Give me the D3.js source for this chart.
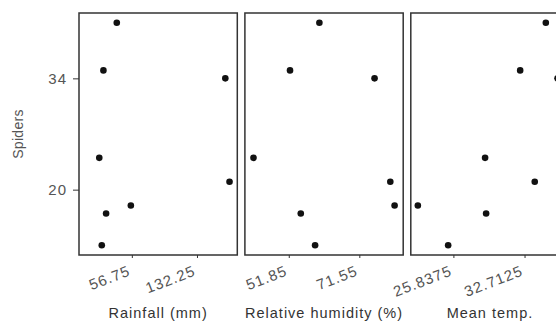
<!DOCTYPE html>
<html>
<head>
<meta charset="utf-8">
<script src="https://cdn.jsdelivr.net/npm/d3@7"></script>
<style>
  body { margin: 0; background: #fff; }
  svg { display: block; font-family: "Liberation Sans", Arial, sans-serif; }
</style>
</head>
<body>
<svg id="chart" width="556" height="322"></svg>
<script>
// one row per site, same order in every array
var spiders = [41, 35, 34, 24, 21, 18, 17, 13]
var rainfall = [39.3, 23.8, 165.1, 19, 170, 55.6, 26.9, 21.9]
var humidity = [60.4, 52.2, 75.8, 42, 80.2, 81.4, 55.2, 59.2]
var meanTemp = [34.77, 32.29, 35.9, 28.9, 33.7, 22.4, 29.0, 25.33]

var yTicks = [20, 34]
var rainTicks = [56.75, 132.25]
var humidityTicks = [51.85, 71.55]
var tempTicks = [25.8375, 32.7125]

var panels = [
  { title: 'Rainfall (mm)', values: rainfall, ticks: rainTicks, domain: [-4.5, 179] },
  { title: 'Relative humidity (%)', values: humidity, ticks: humidityTicks, domain: [39.6, 83.8] },
  { title: 'Mean temp.', values: meanTemp, ticks: tempTicks, domain: [21.72, 37.02] }
]

;(function () {
  'use strict'

  var svg = d3.select('#chart')

  var plotTop = 13, plotBottom = 255,
      plotLeft = 79, panelW = 158.3, gap = 7.6
  var font = '"Liberation Sans", Arial, sans-serif'

  var y = d3.scaleLinear().domain([11.78, 42.22]).range([plotBottom, plotTop])

  // y axis on the first panel
  var yAxis = svg.append('g')
    .attr('transform', 'translate(' + plotLeft + ',0)')
    .call(d3.axisLeft(y).tickValues(yTicks).tickSize(6).tickPadding(6).tickFormat(d3.format('d')))
  yAxis.select('.domain').remove()
  yAxis.selectAll('line').attr('stroke', '#333')
  yAxis.selectAll('text')
    .attr('fill', '#555')
    .style('font-size', '15px')
    .style('letter-spacing', '1px')
    .style('font-family', font)

  svg.append('text')
    .attr('transform', 'translate(23,' + (plotTop + plotBottom) / 2 + ') rotate(-90)')
    .attr('text-anchor', 'middle')
    .attr('fill', '#555')
    .style('font-size', '14px')
    .style('letter-spacing', '0.3px')
    .text('Spiders')

  panels.forEach(function (p, i) {
    var x0 = plotLeft + i * (panelW + gap)
    var x = d3.scaleLinear().domain(p.domain).range([x0, x0 + panelW])
    var g = svg.append('g')

    var xAxis = g.append('g')
      .attr('transform', 'translate(0,' + plotBottom + ')')
      .call(d3.axisBottom(x).tickValues(p.ticks).tickSize(3).tickFormat(function (d) { return String(d) }))
    xAxis.select('.domain').remove()
    xAxis.selectAll('line').attr('stroke', '#333')
    xAxis.selectAll('text')
      .attr('fill', '#555')
      .attr('text-anchor', 'end')
      .attr('dy', null)
      .attr('y', null)
      .attr('transform', 'translate(-1,20) rotate(-21)')
      .style('font-size', '15px')
      .style('letter-spacing', '1px')
      .style('font-family', font)

    g.selectAll('circle')
      .data(p.values)
      .enter()
      .append('circle')
      .attr('cx', function (d) { return x(d) })
      .attr('cy', function (d, j) { return y(spiders[j]) })
      .attr('r', 3.3)
      .attr('fill', '#111')

    g.append('rect')
      .attr('x', x0)
      .attr('y', plotTop)
      .attr('width', panelW)
      .attr('height', plotBottom - plotTop)
      .attr('fill', 'none')
      .attr('stroke', '#333')
      .attr('stroke-width', 1.5)

    g.append('text')
      .attr('x', x0 + panelW / 2)
      .attr('y', 318)
      .attr('text-anchor', 'middle')
      .attr('fill', '#333')
      .style('font-size', '14.5px')
      .style('letter-spacing', '1px')
      .text(p.title)
  })
})()
</script>
</body>
</html>
